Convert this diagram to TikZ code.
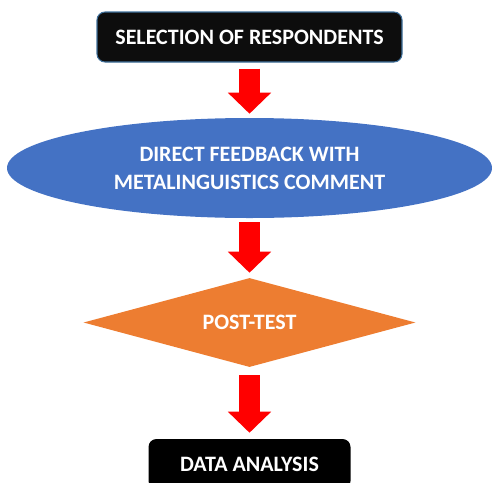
\documentclass[tikz,border=0pt]{standalone}
\usepackage{fontspec}
\setmainfont{Carlito}
\usetikzlibrary{arrows.meta,shapes.geometric}

\definecolor{boxblack}{HTML}{0D0D0D}
\definecolor{boxedge}{HTML}{41719C}
\definecolor{ovalblue}{HTML}{4472C4}
\definecolor{testorange}{HTML}{ED7D31}

\begin{document}
\begin{tikzpicture}[x=0.75pt,y=-0.75pt,
  every node/.style={text=white,font=\fontsize{16.5}{21}\selectfont\bfseries,align=center},
  stepbox/.style={rectangle,rounded corners=6pt,fill=boxblack,minimum width=228.75pt,minimum height=37.5pt},
  oval/.style={ellipse,fill=ovalblue,minimum width=363.75pt,minimum height=75pt,inner sep=0pt},
  test/.style={diamond,fill=testorange,shape aspect=3.73,minimum width=249pt,minimum height=66.75pt,inner sep=0pt},
  flow/.style={draw=red,line width=15.75pt,-{Triangle[width=31.5pt 0,length=15.75pt 0]}}]
  \useasboundingbox (0,0) rectangle (492,482);
  \node[stepbox,draw=boxedge,line width=0.8pt] (sel) at (249.5,37) {SELECTION OF RESPONDENTS};
  \node[oval] (fb) at (249.5,168) {DIRECT FEEDBACK WITH\\METALINGUISTICS COMMENT};
  \node[test] (post) at (249.5,322.5) {POST-TEST};
  \node[stepbox,fill=black,minimum width=151.5pt] (data) at (249.5,464) {DATA ANALYSIS};
  % arrows between the steps
  \draw[flow,shorten <=4.5pt,shorten >=3pt] (sel.south) -- (fb.north);
  \draw[flow,shorten <=3pt,shorten >=3.75pt] (fb.south) -- (post.north);
  \draw[flow,shorten <=6pt,shorten >=4.5pt] (post.south) -- (data.north);
\end{tikzpicture}
\end{document}
